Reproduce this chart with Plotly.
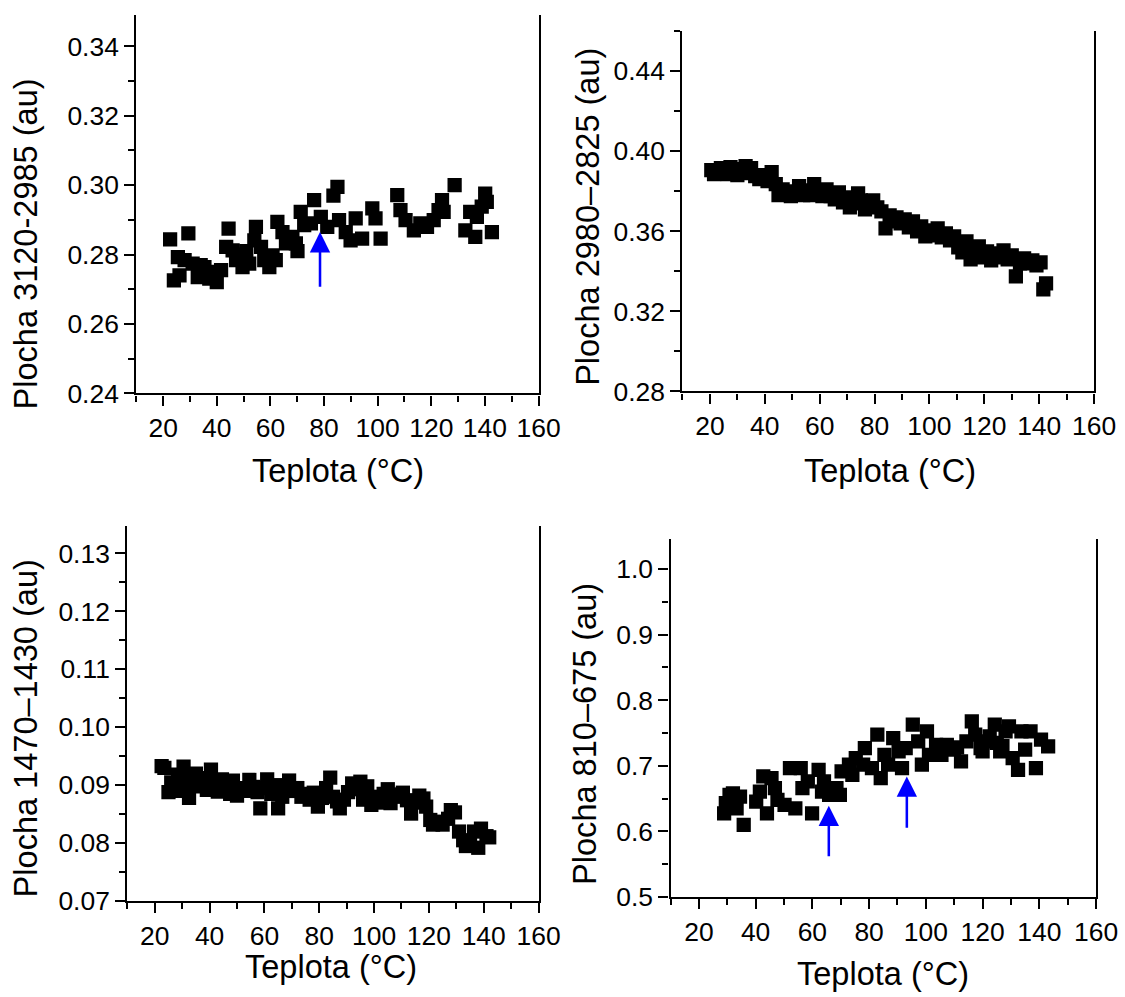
import plotly.graph_objects as go

# ---------------- data ----------------
t1 = [22.6, 24.0, 25.5, 26.1, 28.0, 29.4, 31.0, 32.9, 34.0, 35.4, 37.2, 38.5, 40.0, 41.6, 43.5, 44.4,
      45.9, 47.2, 48.5, 49.6, 51.0, 52.1, 54.0, 54.6, 56.5, 57.7, 59.6, 60.8, 62.0, 62.6, 64.5, 65.8,
      68.2, 69.5, 70.1, 71.3, 72.6, 75.1, 76.3, 78.8, 81.2, 83.5, 85.0, 85.6, 88.1, 89.9, 91.8, 94.2,
      98.0, 99.2, 101.1, 107.3, 108.5, 110.4, 113.5, 115.9, 118.4, 120.9, 122.7, 124.0, 124.6, 128.7,
      132.7, 134.5, 136.4, 137.0, 138.8, 140.1, 140.7, 142.6]
a1 = [0.2844, 0.2726, 0.2793, 0.2740, 0.2784, 0.2861, 0.2774, 0.2735, 0.2770, 0.2764, 0.2731, 0.2750,
      0.2721, 0.2755, 0.2822, 0.2875, 0.2812, 0.2784, 0.2800, 0.2764, 0.2810, 0.2774, 0.2841, 0.2880,
      0.2822, 0.2784, 0.2764, 0.2798, 0.2784, 0.2894, 0.2865, 0.2832, 0.2851, 0.2832, 0.2810, 0.2923,
      0.2885, 0.2890, 0.2957, 0.2909, 0.2880, 0.2970, 0.2995, 0.2899, 0.2865, 0.2841, 0.2904, 0.2846,
      0.2933, 0.2904, 0.2846, 0.2971, 0.2928, 0.2899, 0.2870, 0.2890, 0.2880, 0.2899, 0.2928, 0.2957,
      0.2923, 0.3000, 0.2870, 0.2923, 0.2851, 0.2909, 0.2938, 0.2976, 0.2952, 0.2865]

t2 = [20.5, 21.5, 23.0, 24.0, 25.5, 26.5, 27.5, 29.0, 30.0, 31.5, 33.0, 34.0, 35.0, 36.5, 38.0, 39.5,
      41.0, 42.5, 44.0, 45.0, 46.5, 48.0, 49.5, 51.0, 52.5, 54.0, 55.0, 56.5, 58.0, 59.5, 61.0, 62.5,
      64.0, 65.5, 67.0, 68.5, 70.0, 71.0, 72.5, 74.0, 75.0, 76.5, 78.0, 79.5, 81.0, 82.5, 84.0, 85.5,
      87.0, 88.0, 89.5, 91.0, 92.5, 94.0, 95.5, 97.0, 98.5, 100.0, 101.5, 103.0, 104.5, 106.0, 107.5,
      109.0, 110.5, 112.0, 113.5, 115.0, 116.5, 118.0, 119.5, 121.0, 122.5, 124.0, 125.5, 127.0, 128.5,
      130.0, 131.5, 133.0, 134.5, 136.0, 137.5, 139.0, 140.5, 141.5, 142.5]
a2 = [0.3905, 0.3885, 0.3895, 0.3915, 0.3900, 0.3885, 0.3920, 0.3900, 0.3880, 0.3910, 0.3925, 0.3890,
      0.3915, 0.3875, 0.3860, 0.3880, 0.3850, 0.3895, 0.3835, 0.3780, 0.3810, 0.3790, 0.3775, 0.3800,
      0.3825, 0.3780, 0.3805, 0.3780, 0.3835, 0.3790, 0.3775, 0.3810, 0.3775, 0.3760, 0.3795, 0.3745,
      0.3770, 0.3720, 0.3740, 0.3790, 0.3755, 0.3710, 0.3740, 0.3755, 0.3720, 0.3700, 0.3615, 0.3680,
      0.3650, 0.3670, 0.3640, 0.3660, 0.3620, 0.3650, 0.3600, 0.3625, 0.3575, 0.3605, 0.3580, 0.3615,
      0.3570, 0.3590, 0.3555, 0.3575, 0.3520, 0.3495, 0.3550, 0.3460, 0.3490, 0.3525, 0.3470, 0.3500,
      0.3455, 0.3490, 0.3470, 0.3505, 0.3460, 0.3480, 0.3375, 0.3440, 0.3465, 0.3440, 0.3455, 0.3430,
      0.3445, 0.3310, 0.3340]

t3 = [22.5, 23.5, 25.0, 26.0, 27.0, 28.5, 29.5, 30.5, 31.5, 32.5, 33.5, 35.0, 36.0, 37.5, 39.0, 40.5,
      41.5, 43.0, 44.5, 46.0, 47.5, 48.5, 50.0, 51.5, 53.0, 54.5, 56.0, 57.5, 58.5, 60.0, 61.0, 62.5,
      64.0, 65.0, 66.5, 67.5, 69.0, 70.5, 72.0, 73.5, 75.0, 76.5, 78.0, 79.5, 81.0, 82.5, 84.0, 85.0,
      86.5, 87.5, 89.0, 90.5, 92.0, 93.5, 95.0, 96.0, 97.5, 99.0, 100.5, 102.0, 103.5, 105.0, 106.0,
      107.5, 109.0, 110.5, 112.0, 113.5, 115.0, 116.5, 118.0, 119.0, 120.5, 121.5, 123.0, 125.0, 127.0,
      128.0, 129.5, 131.0, 132.5, 133.5, 135.0, 136.5, 138.0, 139.0, 141.0, 142.0]
a3 = [0.0933, 0.0930, 0.0888, 0.0905, 0.0895, 0.0918, 0.0890, 0.0932, 0.0910, 0.0878, 0.0900, 0.0920,
      0.0898, 0.0912, 0.0892, 0.0927, 0.0905, 0.0889, 0.0910, 0.0900, 0.0885, 0.0908, 0.0882, 0.0895,
      0.0890, 0.0909, 0.0897, 0.0888, 0.0860, 0.0895, 0.0910, 0.0885, 0.0900, 0.0860, 0.0880, 0.0898,
      0.0908, 0.0890, 0.0895, 0.0880, 0.0885, 0.0875, 0.0887, 0.0863, 0.0878, 0.0895, 0.0913, 0.0880,
      0.0872, 0.0860, 0.0875, 0.0888, 0.0903, 0.0893, 0.0906, 0.0875, 0.0898, 0.0866, 0.0880, 0.0870,
      0.0885, 0.0893, 0.0869, 0.0880, 0.0884, 0.0887, 0.0874, 0.0851, 0.0870, 0.0882, 0.0877, 0.0863,
      0.0840, 0.0832, 0.0837, 0.0832, 0.0842, 0.0857, 0.0853, 0.0820, 0.0805, 0.0795, 0.0800, 0.0820,
      0.0792, 0.0825, 0.0812, 0.0810]

t4 = [28.9, 29.5, 30.8, 32.0, 33.3, 34.5, 35.8, 40.2, 41.5, 42.7, 44.0, 45.6, 46.8, 47.7, 50.2, 52.1,
      54.0, 55.9, 56.5, 58.4, 59.9, 62.2, 63.4, 64.1, 65.9, 68.5, 69.7, 70.3, 72.9, 74.1, 75.3, 77.9,
      78.5, 81.0, 82.9, 84.1, 85.4, 86.7, 88.5, 90.4, 91.6, 92.9, 95.4, 97.3, 98.6, 100.4, 101.1, 103.6,
      104.5, 105.5, 107.4, 109.9, 111.0, 112.4, 114.3, 116.2, 117.4, 119.3, 120.0, 121.2, 122.5, 124.3,
      125.0, 126.2, 127.0, 128.1, 129.3, 130.6, 132.5, 133.7, 135.0, 136.9, 138.8, 140.6, 143.1]
a4 = [0.6275, 0.6428, 0.6556, 0.6580, 0.6350, 0.6530, 0.6097, 0.6454, 0.6607, 0.6837, 0.6275, 0.6810,
      0.6657, 0.6480, 0.6403, 0.6964, 0.6350, 0.6964, 0.6657, 0.6760, 0.6275, 0.6938, 0.6607, 0.6760,
      0.6556, 0.6657, 0.6556, 0.6913, 0.7016, 0.6862, 0.7117, 0.7016, 0.7270, 0.6964, 0.7475, 0.6810,
      0.7168, 0.7016, 0.7423, 0.7219, 0.6964, 0.7270, 0.7628, 0.7372, 0.7016, 0.7525, 0.7168, 0.7320,
      0.7250, 0.7168, 0.7320, 0.7245, 0.7280, 0.7066, 0.7372, 0.7678, 0.7475, 0.7270, 0.7220, 0.7372,
      0.7450, 0.7628, 0.7350, 0.7219, 0.7300, 0.7525, 0.7602, 0.7117, 0.6938, 0.7525, 0.7245, 0.7525,
      0.6964, 0.7398, 0.7296]

# arrows: (temperature, tail value, tip value)
arrows1 = [(78.5, 0.2703, 0.2865)]
arrows4 = [(65.8, 0.5597, 0.639), (93.3, 0.603, 0.6837)]

y_titles = ["Plocha 3120-2985 (au)", "Plocha 2980\u20132825 (au)",
            "Plocha 1470\u20131430 (au)", "Plocha 810\u2013675 (au)"]
x_title = "Teplota (\u00b0C)"

# ---------------- figure ----------------
K = 1.017                   # compensation for the capture scale
W0, H0 = 1125, 997
W, H = round(W0 * K), round(H0 * K)
FONT = "Arial, Liberation Sans, sans-serif"

# target screen pixel boxes: left, right, top, bottom
boxes = [(136.7, 540, 15, 392.7), (684.3, 1097, 31, 390.7),
         (127.7, 540, 525, 899.3), (672.3, 1099, 538, 895)]
yranges = [(0.24, 0.349), (0.28, 0.46), (0.07, 0.1347), (0.5, 1.046)]
ydticks = [(0.02, 0.01), (0.04, 0.02), (0.01, 0.005), (0.1, 0.05)]
yfmt = [".2f", ".2f", ".2f", ".1f"]
ytitle_pos = [(27, 243), (590, 216), (27, 727), (587, 732)]
xtitle_pos = [(339, 470), (892, 470), (332, 965), (885, 972)]


def px(x):
    return x / W0


def py(y):
    return 1 - y / H0


def s(v):
    return v * K


fig = go.Figure()
series = [(t1, a1), (t2, a2), (t3, a3), (t4, a4)]
for i, (tx, ay) in enumerate(series):
    fig.add_trace(go.Scatter(x=tx, y=ay, mode="markers",
                             marker=dict(symbol="square", size=s(14), color="black"),
                             xaxis="x" if i == 0 else f"x{i+1}",
                             yaxis="y" if i == 0 else f"y{i+1}",
                             showlegend=False))

layout = dict(width=W, height=H, margin=dict(l=0, r=0, t=0, b=0),
              paper_bgcolor="white", plot_bgcolor="white",
              font=dict(family=FONT, color="black"))
annotations = []
for i in range(4):
    l, r, t, b = boxes[i]
    sx = "" if i == 0 else str(i + 1)
    layout[f"xaxis{sx}"] = dict(
        domain=[px(l), px(r)], range=[10, 160], anchor=f"y{sx}",
        showline=True, linecolor="black", linewidth=s(2), mirror=False,
        showgrid=False, zeroline=False,
        ticks="outside", ticklen=s(10), tickwidth=s(2), tickcolor="black",
        tick0=0, dtick=20, tickfont=dict(size=s(26), family=FONT, color="black"),
        minor=dict(ticks="outside", ticklen=s(6), tickwidth=s(2), tickcolor="black", dtick=10, tick0=0,
                   showgrid=False),
    )
    y0, y1 = yranges[i]
    layout[f"yaxis{sx}"] = dict(
        domain=[py(b), py(t)], range=[y0, y1], anchor=f"x{sx}",
        showline=True, linecolor="black", linewidth=s(2), mirror=True,
        showgrid=False, zeroline=False,
        ticks="outside", ticklen=s(10), tickwidth=s(2), tickcolor="black",
        tick0=y0, dtick=ydticks[i][0], tickformat=yfmt[i],
        tickfont=dict(size=s(26), family=FONT, color="black"),
        minor=dict(ticks="outside", ticklen=s(6), tickwidth=s(2), tickcolor="black",
                   dtick=ydticks[i][1], tick0=y0, showgrid=False),
    )
    xp, yp = ytitle_pos[i]
    annotations.append(dict(text=y_titles[i], xref="paper", yref="paper",
                            x=px(xp), y=py(yp), textangle=-90, showarrow=False,
                            xanchor="center", yanchor="middle",
                            font=dict(size=s(32), family=FONT, color="black")))
    xp, yp = xtitle_pos[i]
    annotations.append(dict(text=x_title, xref="paper", yref="paper",
                            x=px(xp), y=py(yp), showarrow=False,
                            xanchor="center", yanchor="middle",
                            font=dict(size=s(32), family=FONT, color="black")))

for (tx, tail, tip) in arrows1:
    annotations.append(dict(x=tx, y=tip, ax=tx, ay=tail, xref="x", yref="y", axref="x", ayref="y",
                            text="", showarrow=True, arrowhead=2, arrowsize=1.6, arrowwidth=s(2.5),
                            arrowcolor="#0000ff", standoff=0))
for (tx, tail, tip) in arrows4:
    annotations.append(dict(x=tx, y=tip, ax=tx, ay=tail, xref="x4", yref="y4", axref="x4", ayref="y4",
                            text="", showarrow=True, arrowhead=2, arrowsize=1.6, arrowwidth=s(2.5),
                            arrowcolor="#0000ff", standoff=0))

layout["annotations"] = annotations
fig.update_layout(**layout)
fig.write_html("out.html")
